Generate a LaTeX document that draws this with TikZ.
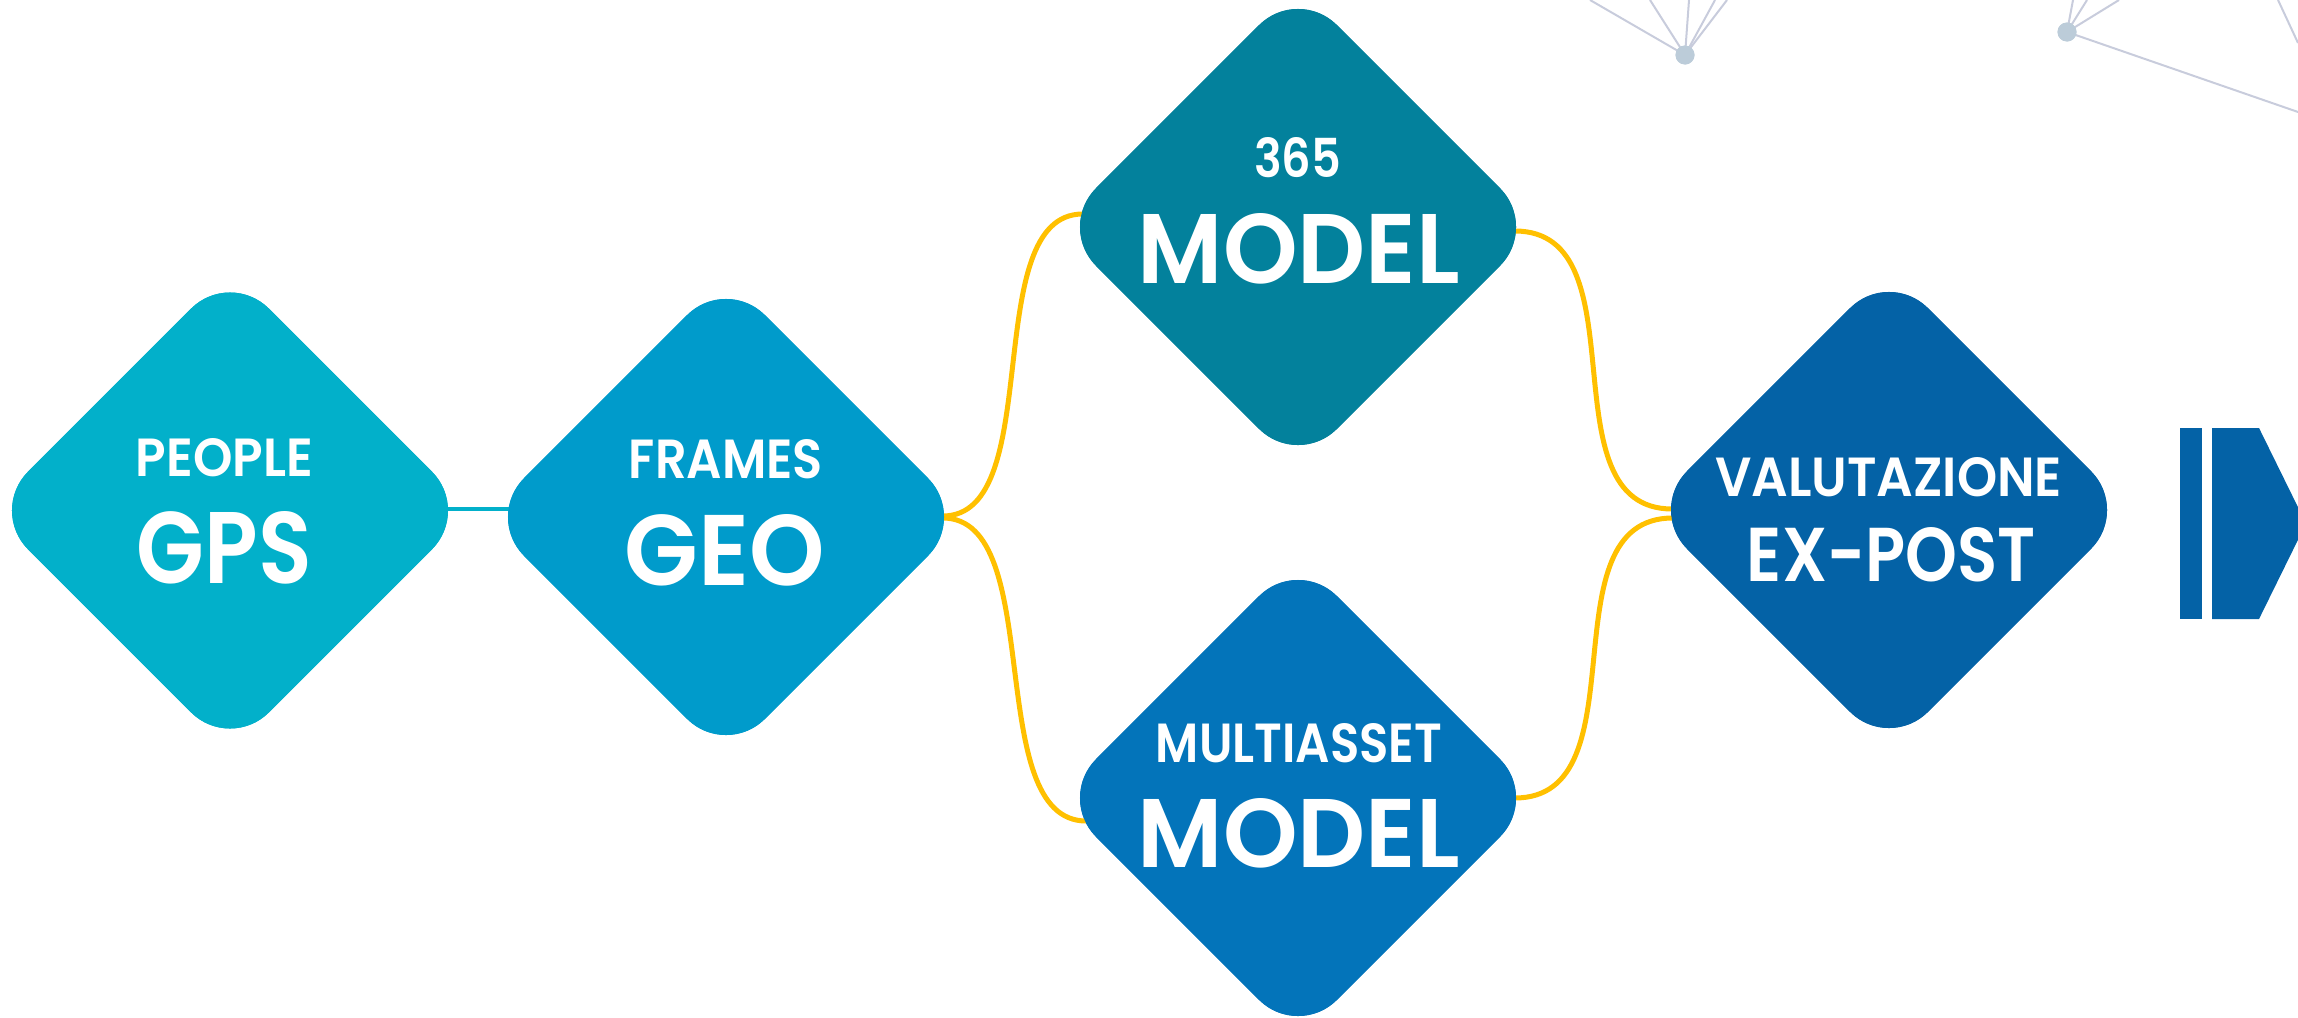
\documentclass[tikz,border=0pt]{standalone}
\usepackage{fontspec}
\setmainfont{Poppins}
\newfontfamily\semib{Poppins SemiBold}
\usepackage{graphicx}
\usetikzlibrary{shapes.geometric,calc}
\definecolor{cPeople}{HTML}{02B0CA}
\definecolor{cGeo}{HTML}{009BCB}
\definecolor{cTsf}{HTML}{03819C}
\definecolor{cMulti}{HTML}{0374BA}
\definecolor{cExp}{HTML}{0462A6}
\definecolor{cYel}{HTML}{FFC000}
\definecolor{cNet}{HTML}{C8CCDC}
\definecolor{cDot}{HTML}{BCCCD9}
\newcommand\fitbox[3]{\resizebox{#1pt}{#2pt}{\semib #3}}
\begin{document}
\begin{tikzpicture}[x=1pt,y=-1pt,
  dia/.style={diamond, minimum width=481.6pt, minimum height=481.6pt, inner sep=0pt, outer sep=0pt, rounded corners=55pt, fill=#1},
  lbl/.style={anchor=base, inner sep=0pt, outer sep=0pt, text=white},
  yel/.style={draw=cYel, line width=5pt},
  cyanline/.style={draw=cPeople, line width=4pt},
  netline/.style={draw=cNet, line width=2pt},
  dotnode/.style={circle, fill=cDot, minimum size=19pt, inner sep=0pt, outer sep=0pt}]
\useasboundingbox (0,0) rectangle (2298,1017);
\clip (0,0) rectangle (2298,1017);

% network (top right)
\node[dotnode] (d1) at (1685,55) {};
\node[dotnode] (d2) at (2067,32) {};
\coordinate (e1) at (1590,0);
\coordinate (e2) at (1650,0);
\coordinate (e3) at (1689,0);
\coordinate (e4) at (1715,0);
\coordinate (e5) at (1727,0);
\coordinate (f1) at (2073,0);
\coordinate (f2) at (2087,0);
\coordinate (f3) at (2119,0);
\coordinate (f4) at (2298,112);
\coordinate (g1) at (2278,0);
\coordinate (g2) at (2298,43);
\foreach \e in {e1,e2,e3,e4,e5} \draw[netline] (d1.center) -- (\e);
\foreach \f in {f1,f2,f3,f4} \draw[netline] (d2.center) -- (\f);
\draw[netline] (g1) -- (g2);
\node[dotnode] at (d1) {};
\node[dotnode] at (d2) {};

% diamonds
\node[dia=cPeople] (people) at (230,510.5) {};
\node[dia=cGeo]    (geo)    at (726,517) {};
\node[dia=cTsf]    (m365)   at (1298,227) {};
\node[dia=cMulti]  (multi)  at (1298,798) {};
\node[dia=cExp]    (expost) at (1889,510) {};

% connectors
\draw[cyanline] ($(people.east)+(-24,-1.5)$) -- ($(geo.west)+(24,-8)$);
\draw[yel] ($(geo.east)+(-24,-1)$) .. controls +(105,0) and +(-105,0) .. ($(m365.west)+(25.5,-13)$);
\draw[yel] ($(geo.east)+(-24,1)$) .. controls +(105,0) and +(-105,0) .. ($(multi.west)+(29,23)$);
\draw[yel] ($(m365.east)+(-24,4)$) .. controls +(130,0) and +(-130,0) .. ($(expost.west)+(24,-1)$);
\draw[yel] ($(multi.east)+(-24,0)$) .. controls +(130,0) and +(-130,0) .. ($(expost.west)+(24.5,8)$);

% redraw diamonds on top of connector ends
\node[dia=cPeople] at (people) {};
\node[dia=cGeo]    at (geo) {};
\node[dia=cTsf]    at (m365) {};
\node[dia=cMulti]  at (multi) {};
\node[dia=cExp]    at (expost) {};

% labels
\node[lbl] (tPeople) at (224.5,476) {\fitbox{177}{38}{PEOPLE}};
\node[lbl] (tGps)    at (224.5,583) {\fitbox{175}{72}{GPS}};
\node[lbl] (tFrames) at (726,478) {\fitbox{194}{39}{FRAMES}};
\node[lbl] (tGeo)    at (725,585) {\fitbox{200}{71}{GEO}};
\node[lbl] (t365)    at (1297.5,177) {\fitbox{87}{40}{365}};
\node[lbl] (tModelA) at (1299,283) {\fitbox{322}{70}{MODEL}};
\node[lbl] (tMulti)  at (1299,762) {\fitbox{286}{39}{MULTIASSET}};
\node[lbl] (tModelB) at (1299,867) {\fitbox{322}{69}{MODEL}};
\node[lbl] (tVal)    at (1888.5,496) {\fitbox{347}{39}{VALUTAZIONE}};
\node[lbl] (tExp)    at (1891.5,581) {\fitbox{289}{54}{EX-POST}};

% bars at right
\fill[cExp] (2180,428) rectangle (2202,619);
\fill[cExp] (2212,428) -- (2259,428) -- (2306,523.5) -- (2259,619) -- (2212,619) -- cycle;
\end{tikzpicture}
\end{document}
